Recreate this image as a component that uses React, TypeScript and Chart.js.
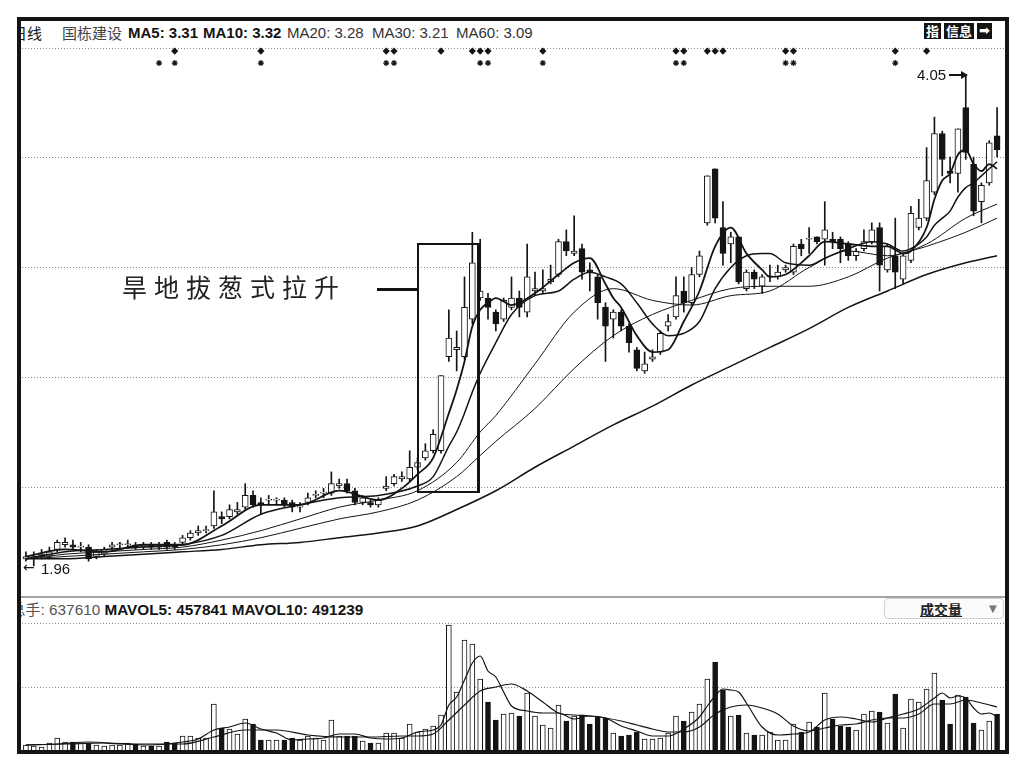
import React, { useEffect, useRef } from "react";
import { Chart, registerables } from "chart.js";

Chart.register(...registerables);

// ---------- daily K-line data ----------
const opens = [
  1.99, 1.99, 2.0, 2.0, 2.03, 2.05, 2.05, 2.04, 2.04, 2.0,
  2.01, 2.04, 2.05, 2.05, 2.05, 2.04, 2.05, 2.04, 2.06, 2.05,
  2.06, 2.08, 2.1, 2.11, 2.13, 2.17, 2.17, 2.19, 2.21, 2.26,
  2.23, 2.24, 2.24, 2.24, 2.23, 2.21, 2.23, 2.26, 2.27, 2.27,
  2.3, 2.31, 2.28, 2.23, 2.23, 2.22, 2.29, 2.31, 2.33, 2.33,
  2.38, 2.42, 2.45, 2.45, 2.85, 2.88, 2.85, 3.01, 3.1, 3.1,
  3.04, 3.01, 3.06, 3.1, 3.04, 3.13, 3.13, 3.17, 3.2, 3.34,
  3.29, 3.31, 3.22, 3.19, 3.06, 3.01, 3.04, 2.98, 2.88, 2.79,
  2.84, 2.87, 2.98, 3.02, 3.13, 3.08, 3.2, 3.42, 3.65, 3.4,
  3.33, 3.36, 3.14, 3.21, 3.15, 3.19, 3.19, 3.22, 3.21, 3.33,
  3.35, 3.36, 3.35, 3.35, 3.35, 3.33, 3.28, 3.31, 3.34, 3.4,
  3.22, 3.28, 3.18, 3.26, 3.4, 3.44, 3.55, 3.8, 3.64, 3.63,
  3.91, 3.67, 3.51, 3.59, 3.79,
];
const highs = [
  2.02, 2.02, 2.03, 2.04, 2.07, 2.08, 2.07, 2.06, 2.05, 2.03,
  2.04, 2.06, 2.06, 2.07, 2.06, 2.06, 2.06, 2.06, 2.07, 2.06,
  2.09, 2.11, 2.13, 2.13, 2.28, 2.19, 2.22, 2.23, 2.31, 2.28,
  2.25, 2.26, 2.25, 2.25, 2.24, 2.23, 2.27, 2.28, 2.29, 2.36,
  2.33, 2.33, 2.29, 2.26, 2.24, 2.25, 2.34, 2.35, 2.36, 2.45,
  2.42, 2.48, 2.54, 2.77, 3.05, 2.96, 3.19, 3.38, 3.35, 3.12,
  3.05, 3.1, 3.19, 3.13, 3.33, 3.21, 3.22, 3.24, 3.35, 3.39,
  3.45, 3.33, 3.25, 3.2, 3.08, 3.05, 3.05, 2.99, 2.89, 2.87,
  2.88, 2.96, 3.03, 3.19, 3.19, 3.23, 3.3, 3.62, 3.65, 3.51,
  3.38, 3.36, 3.22, 3.22, 3.2, 3.24, 3.24, 3.24, 3.33, 3.35,
  3.4, 3.36, 3.51, 3.38, 3.36, 3.34, 3.31, 3.39, 3.42, 3.42,
  3.33, 3.44, 3.29, 3.49, 3.52, 3.74, 3.87, 3.81, 3.7, 3.82,
  4.05, 3.7, 3.59, 3.77, 3.91,
];
const lows = [
  1.98, 1.96, 1.99, 1.99, 2.02, 2.04, 2.03, 2.02, 1.98, 1.99,
  2.0, 2.03, 2.03, 2.04, 2.03, 2.03, 2.03, 2.03, 2.03, 2.03,
  2.05, 2.07, 2.09, 2.1, 2.12, 2.14, 2.16, 2.18, 2.2, 2.21,
  2.18, 2.22, 2.22, 2.21, 2.19, 2.19, 2.22, 2.25, 2.25, 2.26,
  2.29, 2.27, 2.22, 2.22, 2.21, 2.21, 2.28, 2.3, 2.32, 2.32,
  2.37, 2.41, 2.44, 2.44, 2.83, 2.79, 2.84, 2.99, 3.09, 3.01,
  2.96, 3.0, 3.05, 3.02, 3.02, 3.11, 3.12, 3.16, 3.19, 3.28,
  3.28, 3.18, 3.13, 3.01, 2.83, 2.93, 2.96, 2.87, 2.79, 2.78,
  2.83, 2.86, 2.96, 3.01, 3.04, 3.07, 3.19, 3.41, 3.42, 3.24,
  3.25, 3.16, 3.13, 3.14, 3.12, 3.17, 3.18, 3.21, 3.2, 3.28,
  3.29, 3.33, 3.24, 3.31, 3.25, 3.26, 3.26, 3.3, 3.33, 3.13,
  3.21, 3.14, 3.16, 3.25, 3.39, 3.43, 3.54, 3.62, 3.59, 3.55,
  3.69, 3.45, 3.42, 3.58, 3.7,
];
const closes = [
  2.0, 2.0, 2.01, 2.02, 2.06, 2.06, 2.04, 2.04, 1.99, 2.02,
  2.03, 2.05, 2.05, 2.05, 2.04, 2.05, 2.04, 2.05, 2.04, 2.04,
  2.08, 2.1, 2.11, 2.11, 2.19, 2.16, 2.2, 2.2, 2.26, 2.22,
  2.22, 2.24, 2.24, 2.22, 2.21, 2.21, 2.25, 2.26, 2.27, 2.31,
  2.31, 2.28, 2.23, 2.25, 2.22, 2.24, 2.3, 2.34, 2.34, 2.38,
  2.4, 2.45, 2.52, 2.77, 2.93, 2.89, 3.06, 3.25, 3.13, 3.06,
  2.99, 3.09, 3.1, 3.06, 3.19, 3.14, 3.14, 3.18, 3.34, 3.3,
  3.3, 3.21, 3.21, 3.08, 2.98, 3.04, 2.98, 2.91, 2.8, 2.82,
  2.85, 2.95, 3.0, 3.11, 3.08, 3.2, 3.28, 3.62, 3.44, 3.29,
  3.36, 3.17, 3.21, 3.18, 3.19, 3.19, 3.21, 3.23, 3.32, 3.31,
  3.35, 3.34, 3.39, 3.34, 3.31, 3.28, 3.3, 3.34, 3.39, 3.24,
  3.32, 3.21, 3.28, 3.46, 3.44, 3.6, 3.8, 3.69, 3.63, 3.82,
  3.72, 3.47, 3.58, 3.76, 3.73,
];
// volume in lots (手)
const volumes = [
  85000, 68000, 51000, 119000, 204000, 136000, 136000, 119000, 119000, 85000,
  68000, 85000, 85000, 119000, 102000, 68000, 68000, 68000, 136000, 119000,
  238000, 238000, 204000, 204000, 782000, 374000, 357000, 272000, 527000, 442000,
  170000, 170000, 170000, 170000, 204000, 170000, 238000, 204000, 170000, 510000,
  238000, 238000, 238000, 153000, 119000, 119000, 289000, 289000, 204000, 442000,
  306000, 357000, 408000, 595000, 2125000, 986000, 1870000, 1802000, 1207000, 816000,
  510000, 612000, 629000, 578000, 969000, 578000, 425000, 374000, 765000, 493000,
  578000, 595000, 442000, 561000, 544000, 289000, 238000, 255000, 306000, 187000,
  187000, 204000, 289000, 578000, 493000, 646000, 782000, 1207000, 1496000, 1020000,
  578000, 595000, 289000, 255000, 255000, 306000, 170000, 170000, 442000, 306000,
  476000, 391000, 969000, 527000, 408000, 391000, 340000, 612000, 663000, 646000,
  459000, 952000, 374000, 867000, 816000, 1037000, 1309000, 850000, 442000, 935000,
  901000, 459000, 340000, 493000, 612000,
];

// ---------- moving average lines (at sample days) ----------
const ma5Days = [0, 5, 10, 15, 20, 25, 30, 35, 40, 45, 48, 50, 52, 54, 55, 56, 57, 58, 59, 60, 62, 65, 68, 70, 72, 74, 75, 76, 78, 80, 82, 84, 86, 88, 90, 92, 94, 95, 97, 100, 102, 105, 108, 110, 112, 113, 115, 116, 117, 118, 119, 120, 121, 122, 123, 124];
const ma5Values = [2.0, 2.03, 2.02, 2.05, 2.05, 2.13, 2.22, 2.22, 2.28, 2.24, 2.29, 2.35, 2.42, 2.61, 2.71, 2.83, 2.98, 3.05, 3.08, 3.1, 3.07, 3.12, 3.2, 3.25, 3.27, 3.16, 3.1, 3.06, 2.94, 2.87, 2.88, 3.0, 3.13, 3.32, 3.4, 3.29, 3.22, 3.19, 3.2, 3.28, 3.34, 3.33, 3.32, 3.32, 3.29, 3.3, 3.4, 3.52, 3.6, 3.63, 3.71, 3.73, 3.67, 3.64, 3.67, 3.65];
const ma10Days = [0, 5, 10, 15, 20, 25, 30, 35, 40, 45, 50, 52, 54, 55, 56, 57, 58, 60, 62, 65, 68, 70, 72, 74, 76, 78, 80, 82, 84, 86, 88, 90, 92, 94, 95, 97, 100, 102, 105, 108, 110, 112, 113, 115, 116, 117, 118, 119, 120, 121, 122, 123, 124];
const ma10Values = [1.99, 2.02, 2.03, 2.04, 2.05, 2.09, 2.18, 2.22, 2.25, 2.26, 2.3, 2.34, 2.47, 2.53, 2.61, 2.7, 2.78, 2.91, 3.03, 3.11, 3.13, 3.18, 3.21, 3.19, 3.16, 3.08, 2.99, 2.94, 2.95, 3.0, 3.14, 3.23, 3.28, 3.29, 3.29, 3.25, 3.24, 3.27, 3.31, 3.34, 3.33, 3.3, 3.31, 3.36, 3.41, 3.44, 3.47, 3.53, 3.57, 3.59, 3.62, 3.65, 3.68];
const ma20Days = [0, 5, 10, 15, 20, 25, 30, 35, 40, 45, 50, 55, 58, 60, 65, 70, 75, 80, 85, 90, 95, 100, 105, 110, 115, 120, 124];
const ma20Values = [1.99, 2.01, 2.02, 2.03, 2.04, 2.07, 2.11, 2.16, 2.21, 2.24, 2.28, 2.4, 2.53, 2.6, 2.82, 3.04, 3.14, 3.09, 3.07, 3.11, 3.13, 3.23, 3.3, 3.28, 3.33, 3.44, 3.5];
const ma30Days = [0, 5, 10, 15, 20, 25, 30, 35, 40, 45, 50, 55, 58, 60, 65, 70, 75, 80, 85, 90, 95, 100, 105, 110, 115, 120, 124];
const ma30Values = [1.99, 2.0, 2.01, 2.02, 2.03, 2.05, 2.08, 2.12, 2.16, 2.19, 2.24, 2.34, 2.43, 2.49, 2.63, 2.8, 2.94, 3.03, 3.09, 3.14, 3.15, 3.15, 3.19, 3.27, 3.32, 3.38, 3.44];
const ma60Days = [0, 5, 10, 15, 20, 25, 30, 35, 40, 45, 50, 55, 60, 65, 70, 75, 80, 85, 90, 95, 100, 105, 110, 115, 120, 124];
const ma60Values = [1.99, 1.99, 2.0, 2.01, 2.02, 2.03, 2.05, 2.06, 2.08, 2.1, 2.13, 2.2, 2.28, 2.38, 2.47, 2.56, 2.64, 2.73, 2.81, 2.89, 2.97, 3.06, 3.13, 3.2, 3.25, 3.28];

const mavol5Days = [0, 4, 8, 12, 16, 20, 22, 24, 26, 28, 30, 32, 34, 36, 38, 40, 42, 44, 46, 48, 50, 52, 53, 54, 55, 56, 57, 58, 59, 60, 61, 62, 64, 66, 68, 70, 72, 74, 76, 78, 80, 82, 84, 86, 87, 88, 89, 90, 91, 92, 94, 96, 98, 100, 102, 104, 106, 108, 110, 112, 114, 116, 117, 118, 119, 120, 121, 122, 123, 124];
const mavol5Values = [85000, 102000, 136000, 102000, 85000, 136000, 187000, 340000, 391000, 459000, 357000, 289000, 170000, 187000, 204000, 272000, 272000, 204000, 187000, 204000, 306000, 340000, 425000, 765000, 901000, 1190000, 1479000, 1598000, 1343000, 1241000, 986000, 748000, 663000, 629000, 629000, 527000, 578000, 544000, 408000, 323000, 238000, 238000, 357000, 561000, 748000, 918000, 1037000, 1020000, 986000, 799000, 391000, 255000, 272000, 306000, 510000, 561000, 527000, 476000, 544000, 612000, 697000, 884000, 969000, 884000, 918000, 884000, 714000, 612000, 629000, 561000];
const mavol10Days = [0, 5, 10, 15, 20, 24, 28, 32, 36, 40, 44, 48, 50, 52, 54, 56, 58, 60, 62, 64, 66, 68, 70, 72, 74, 76, 78, 80, 82, 84, 86, 88, 90, 92, 94, 96, 98, 100, 102, 104, 106, 108, 110, 112, 114, 116, 118, 120, 122, 124];
const mavol10Values = [85000, 102000, 119000, 102000, 102000, 221000, 340000, 340000, 255000, 221000, 221000, 238000, 238000, 272000, 510000, 765000, 1003000, 1071000, 1122000, 1003000, 816000, 629000, 595000, 578000, 544000, 493000, 425000, 357000, 306000, 306000, 391000, 612000, 731000, 765000, 714000, 612000, 408000, 323000, 374000, 425000, 442000, 510000, 544000, 544000, 612000, 782000, 782000, 850000, 799000, 731000];

// ---------- signal markers ----------
const diamondDays = [19, 30, 46, 47, 53, 57, 58, 59, 66, 83, 84, 87, 88, 89, 97, 98, 111, 115];
const starDays = [17, 19, 30, 46, 47, 58, 59, 66, 83, 84, 97, 98, 111];
const diamondLevel = 4.151;
const starLevel = 4.1;

// ---------- axes ----------
const priceMin = 1.832;
const priceMax = 4.181;
const priceGridLines = [2.296, 2.764, 3.232, 3.7, 4.164];
const volumeMax = 2261000;
const volumeGridLines = [1071000, 2159000];

const dayLabels = opens.map((_, i) => String(i + 1));
const INK = "#141414";
const LATIN = '"Liberation Sans", Arial, sans-serif';
const CJK = '"Noto Sans CJK SC", sans-serif';

const dottedGrid = (values: number[]) => ({
  id: "dottedGrid",
  beforeDatasetsDraw(chart: any) {
    const { ctx } = chart;
    const y = chart.scales.y;
    ctx.save();
    ctx.strokeStyle = "#8c8c8c";
    ctx.lineWidth = 1;
    ctx.setLineDash([1, 2]);
    values.forEach((v) => {
      const py = Math.round(y.getPixelForValue(v)) + 0.5;
      ctx.beginPath();
      ctx.moveTo(0, py);
      ctx.lineTo(chart.width, py);
      ctx.stroke();
    });
    ctx.restore();
  },
});

const toPoints = (days: number[], values: number[]) =>
  days.map((d, k) => ({ x: dayLabels[d], y: values[k] }));

const lineSet = (days: number[], values: number[], width: number) => ({
  type: "line",
  data: toPoints(days, values),
  borderColor: INK,
  borderWidth: width,
  pointRadius: 0,
  cubicInterpolationMode: "monotone",
  order: 1,
});

const upFlags = closes.map((c, i) => c >= opens[i]);

const baseOptions = (yMin: number, yMax: number) => ({
  responsive: false,
  animation: false,
  events: [],
  layout: { autoPadding: false, padding: { left: 0, right: 5, top: 0, bottom: 0 } },
  plugins: { legend: { display: false }, tooltip: { enabled: false } },
  scales: {
    x: { type: "category", offset: true, display: false },
    y: { type: "linear", min: yMin, max: yMax, display: false },
  },
});

function PriceChart() {
  const ref = useRef<HTMLCanvasElement>(null);
  useEffect(() => {
    const chart = new Chart(ref.current as HTMLCanvasElement, {
      type: "bar",
      data: {
        labels: dayLabels,
        datasets: [
          {
            type: "bar",
            data: opens.map((o, i) => [o, closes[i]]),
            backgroundColor: upFlags.map((u) => (u ? "#ffffff" : INK)),
            borderColor: INK,
            borderWidth: 1,
            borderSkipped: false,
            barThickness: 6,
            minBarLength: 1,
            grouped: false,
            order: 2,
          },
          {
            type: "bar",
            data: lows.map((l, i) => [l, highs[i]]),
            backgroundColor: INK,
            borderWidth: 0,
            barThickness: 1,
            grouped: false,
            order: 3,
          },
          lineSet(ma5Days, ma5Values, 1.8),
          lineSet(ma10Days, ma10Values, 1.5),
          lineSet(ma20Days, ma20Values, 1),
          lineSet(ma30Days, ma30Values, 1),
          lineSet(ma60Days, ma60Values, 1.5),
          {
            type: "line",
            data: diamondDays.map((d) => ({ x: dayLabels[d], y: diamondLevel })),
            showLine: false,
            pointStyle: "rectRot",
            pointRadius: 3.6,
            pointBackgroundColor: INK,
            pointBorderColor: INK,
            pointBorderWidth: 0,
            order: 0,
          },
          {
            type: "line",
            data: starDays.map((d) => ({ x: dayLabels[d], y: starLevel })),
            showLine: false,
            pointStyle: "star",
            pointRadius: 3,
            pointBorderColor: INK,
            pointBorderWidth: 1.2,
            order: 0,
          },
        ] as any,
      },
      options: baseOptions(priceMin, priceMax) as any,
      plugins: [dottedGrid(priceGridLines)],
    });
    return () => chart.destroy();
  }, []);
  return (
    <div style={{ position: "absolute", left: 22, top: 44, width: 984, height: 552 }}>
      <canvas ref={ref} width={984} height={552} />
    </div>
  );
}

function VolumeChart() {
  const ref = useRef<HTMLCanvasElement>(null);
  useEffect(() => {
    const chart = new Chart(ref.current as HTMLCanvasElement, {
      type: "bar",
      data: {
        labels: dayLabels,
        datasets: [
          {
            type: "bar",
            data: volumes,
            backgroundColor: upFlags.map((u) => (u ? "#ffffff" : INK)),
            borderColor: INK,
            borderWidth: 1,
            barThickness: 5,
            grouped: false,
            order: 2,
          },
          lineSet(mavol5Days, mavol5Values, 1.2),
          lineSet(mavol10Days, mavol10Values, 1.2),
        ] as any,
      },
      options: baseOptions(0, volumeMax) as any,
      plugins: [dottedGrid(volumeGridLines)],
    });
    return () => chart.destroy();
  }, []);
  return (
    <div style={{ position: "absolute", left: 22, top: 617, width: 984, height: 133 }}>
      <canvas ref={ref} width={984} height={133} />
    </div>
  );
}

const abs = (left: number, top: number, extra: any = {}) => ({
  position: "absolute" as const,
  left,
  top,
  whiteSpace: "nowrap" as const,
  ...extra,
});

export default function App() {
  const headerText = { fontSize: 15, lineHeight: "18px", color: INK };
  const badge = {
    display: "inline-block",
    background: INK,
    color: "#fff",
    fontFamily: CJK,
    fontWeight: 700,
    fontSize: 13,
    lineHeight: "16px",
    padding: "0 2px",
    marginRight: 3,
  };
  return (
    <div
      style={{
        position: "fixed",
        left: 0,
        top: 0,
        width: 1030,
        height: 771,
        background: "#fff",
        overflow: "hidden",
      }}
    >
      {/* header line, clipped at the panel edge */}
      <div style={abs(21, 21, { width: 984, height: 22, overflow: "hidden" })}>
        <div style={abs(-9, 3, { ...headerText, fontFamily: CJK })}>日线</div>
        <div style={abs(41, 3, { ...headerText, fontFamily: CJK, color: "#444" })}>国栋建设</div>
        <div style={abs(107, 3, { ...headerText, fontFamily: LATIN, fontWeight: 700 })}>MA5: 3.31</div>
        <div style={abs(182, 3, { ...headerText, fontFamily: LATIN, fontWeight: 700 })}>MA10: 3.32</div>
        <div style={abs(266, 3, { ...headerText, fontFamily: LATIN, color: "#333" })}>MA20: 3.28</div>
        <div style={abs(351, 3, { ...headerText, fontFamily: LATIN, color: "#333" })}>MA30: 3.21</div>
        <div style={abs(435, 3, { ...headerText, fontFamily: LATIN, color: "#333" })}>MA60: 3.09</div>
        <div style={abs(903, 2, { display: "flex" })}>
          <span style={badge}>指</span>
          <span style={badge}>信息</span>
          <span style={{ ...badge, fontFamily: '"DejaVu Sans", sans-serif', marginRight: 0 }}>➡</span>
        </div>
      </div>

      <PriceChart />

      {/* price annotations */}
      <div style={abs(917, 66, { fontFamily: LATIN, fontSize: 15, lineHeight: "17px", color: INK })}>4.05</div>
      <div style={abs(949, 74, { width: 13, height: 2, background: INK })} />
      <div
        style={abs(961, 71, {
          width: 0,
          height: 0,
          borderLeft: "7px solid " + INK,
          borderTop: "4px solid transparent",
          borderBottom: "4px solid transparent",
        })}
      />
      <div style={abs(23, 559, { fontFamily: '"DejaVu Sans", sans-serif', fontSize: 14, lineHeight: "17px", color: INK })}>←</div>
      <div style={abs(41, 560, { fontFamily: LATIN, fontSize: 15, lineHeight: "17px", color: INK })}>1.96</div>

      <div
        style={abs(122, 270, {
          fontFamily: CJK,
          fontSize: 25,
          letterSpacing: 7,
          lineHeight: "32px",
          color: "#222",
        })}
      >
        旱地拔葱式拉升
      </div>
      <div style={abs(377, 288, { width: 41, height: 3, background: INK })} />
      <div
        style={abs(417, 243, {
          width: 63,
          height: 250,
          boxSizing: "border-box",
          borderTop: "2px solid " + INK,
          borderLeft: "2px solid " + INK,
          borderBottom: "2px solid " + INK,
          borderRight: "3px solid " + INK,
        })}
      />

      {/* separator between panels */}
      <div style={abs(21, 596, { width: 984, height: 2, background: "#a3a3a3" })} />

      {/* volume header, clipped at the panel edge */}
      <div style={abs(21, 599, { width: 700, height: 18, overflow: "hidden" })}>
        <div style={abs(-11, 0, { fontSize: 15.3, lineHeight: "18px" })}>
          <span style={{ fontFamily: CJK, color: "#555" }}>总手</span>
          <span style={{ fontFamily: LATIN, color: "#555" }}>: 637610 </span>
          <span style={{ fontFamily: LATIN, fontWeight: 700, color: INK }}>MAVOL5: 457841 MAVOL10: 491239</span>
        </div>
      </div>
      <div
        style={abs(884, 598, {
          width: 120,
          height: 21,
          boxSizing: "border-box",
          border: "1px solid #cfcfcf",
          borderRadius: 4,
          background: "#fbfbfb",
        })}
      >
        <span
          style={{
            position: "absolute",
            left: 35,
            top: 1,
            fontFamily: CJK,
            fontWeight: 700,
            fontSize: 14,
            lineHeight: "18px",
            color: "#222",
            textDecoration: "underline",
          }}
        >
          成交量
        </span>
        <span
          style={{
            position: "absolute",
            left: 104,
            top: 3,
            fontFamily: '"DejaVu Sans", sans-serif',
            fontSize: 10,
            lineHeight: "14px",
            color: "#777",
          }}
        >
          ▼
        </span>
      </div>

      <VolumeChart />

      {/* outer frame */}
      <div
        style={abs(17, 17, {
          width: 992,
          height: 737,
          boxSizing: "border-box",
          border: "4px solid " + INK,
          pointerEvents: "none",
        })}
      />
    </div>
  );
}
